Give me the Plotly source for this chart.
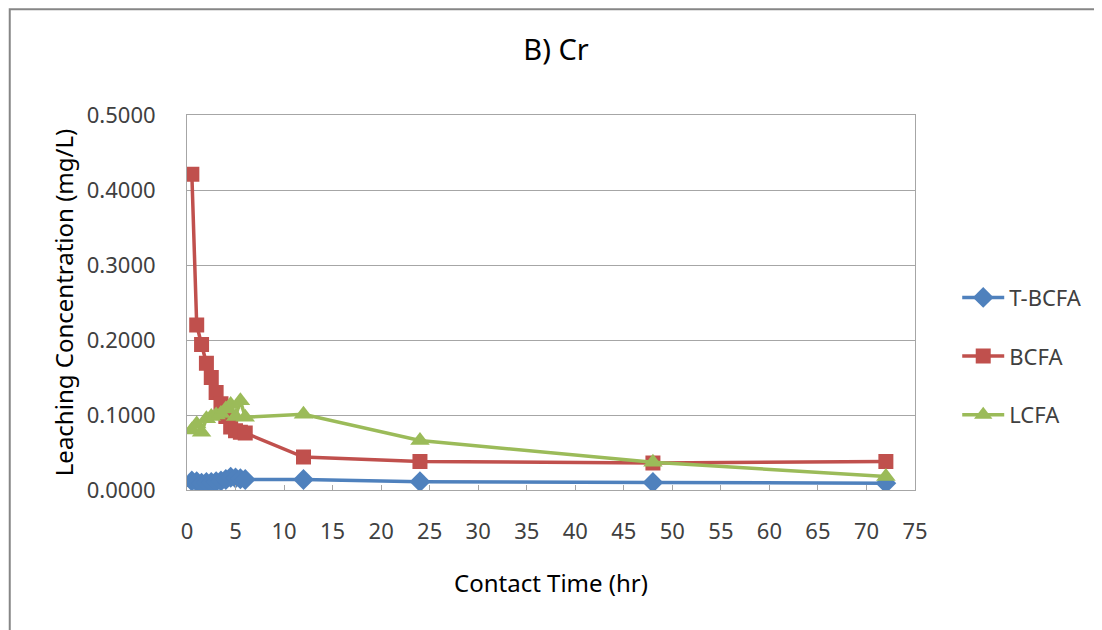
import plotly.graph_objects as go

time_hr = [0.5, 1, 1.5, 2, 2.5, 3, 3.5, 4, 4.5, 5, 5.5, 6, 12, 24, 48, 72]
t_bcfa = [0.012, 0.011, 0.009, 0.010, 0.010, 0.011, 0.012, 0.014, 0.017, 0.016, 0.015, 0.014, 0.014, 0.011, 0.010, 0.009]
bcfa = [0.421, 0.220, 0.194, 0.169, 0.150, 0.130, 0.115, 0.098, 0.084, 0.079, 0.077, 0.076, 0.044, 0.038, 0.036, 0.038]
lcfa = [0.080, 0.088, 0.077, 0.095, 0.098, 0.100, 0.102, 0.108, 0.114, 0.098, 0.119, 0.097, 0.101, 0.066, 0.037, 0.018]

series_names = ["T-BCFA", "BCFA", "LCFA"]
series_vals = [t_bcfa, bcfa, lcfa]
colors = ["#4F81BD", "#C0504D", "#9BBB59"]
symbols = ["diamond", "square", "triangle-up"]
sizes = [16, 15, 17]

FONT = "Noto Sans"

fig = go.Figure()
for name, vals, c, s, sz in zip(series_names, series_vals, colors, symbols, sizes):
    fig.add_trace(go.Scatter(
        x=time_hr, y=vals, name=name, mode="lines+markers",
        line=dict(color=c, width=3.5),
        marker=dict(symbol=s, size=sz, color=c),
        legendgroup=name,
    ))

# figure size that fits the window beside the 8px page margin
FW, FH = 1094, 622
# plot area in figure pixels
L, RIGHT, T, BOTTOM = 178.5, 907.5, 107, 482.5
W, H = RIGHT - L, BOTTOM - T
fig.update_layout(
    width=FW, height=FH,
    margin=dict(l=L, r=FW - RIGHT, t=T, b=FH - BOTTOM, autoexpand=False),
    paper_bgcolor="white", plot_bgcolor="white",
    font=dict(family=FONT, size=22, color="#404040"),
    title=dict(text="B) Cr", x=548 / FW, xanchor="center", y=1 - 42 / FH, yanchor="middle",
               font=dict(family=FONT, size=29, color="#000000")),
    showlegend=True,
    legend=dict(x=1.058, xanchor="left", y=0.357, yanchor="middle",
                font=dict(family=FONT, size=22, color="#404040"),
                itemwidth=42, tracegroupgap=27, bgcolor="rgba(0,0,0,0)"),
    xaxis=dict(range=[0, 75], dtick=5, tick0=0, showgrid=False,
               showline=True, linecolor="#a6a6a6", linewidth=1, mirror=True,
               ticks="inside", ticklen=5, tickcolor="#a6a6a6",
               ticklabelstandoff=22, zeroline=False,
               tickfont=dict(family=FONT, size=22, color="#404040"),
               title=dict(text="Contact Time (hr)", standoff=30,
                          font=dict(family=FONT, size=24, color="#000000"))),
    yaxis=dict(range=[0, 0.5], dtick=0.1, tick0=0, tickformat=".4f",
               showgrid=True, gridcolor="#a6a6a6", gridwidth=1,
               showline=True, linecolor="#a6a6a6", linewidth=1, mirror=True,
               ticks="", ticklabelstandoff=26, zeroline=False,
               tickfont=dict(family=FONT, size=22, color="#404040"),
               title=dict(text="Leaching Concentration (mg/L)", standoff=6,
                          font=dict(family=FONT, size=24, color="#000000"))),
    shapes=[dict(type="rect", xref="paper", yref="paper",
                 x0=(1 - L) / W, x1=(1300 - L) / W,
                 y0=(BOTTOM - 800) / H, y1=(BOTTOM - 1) / H,
                 line=dict(color="#868686", width=2), fillcolor="rgba(0,0,0,0)", layer="below")],
)

fig.write_html("out.html")
